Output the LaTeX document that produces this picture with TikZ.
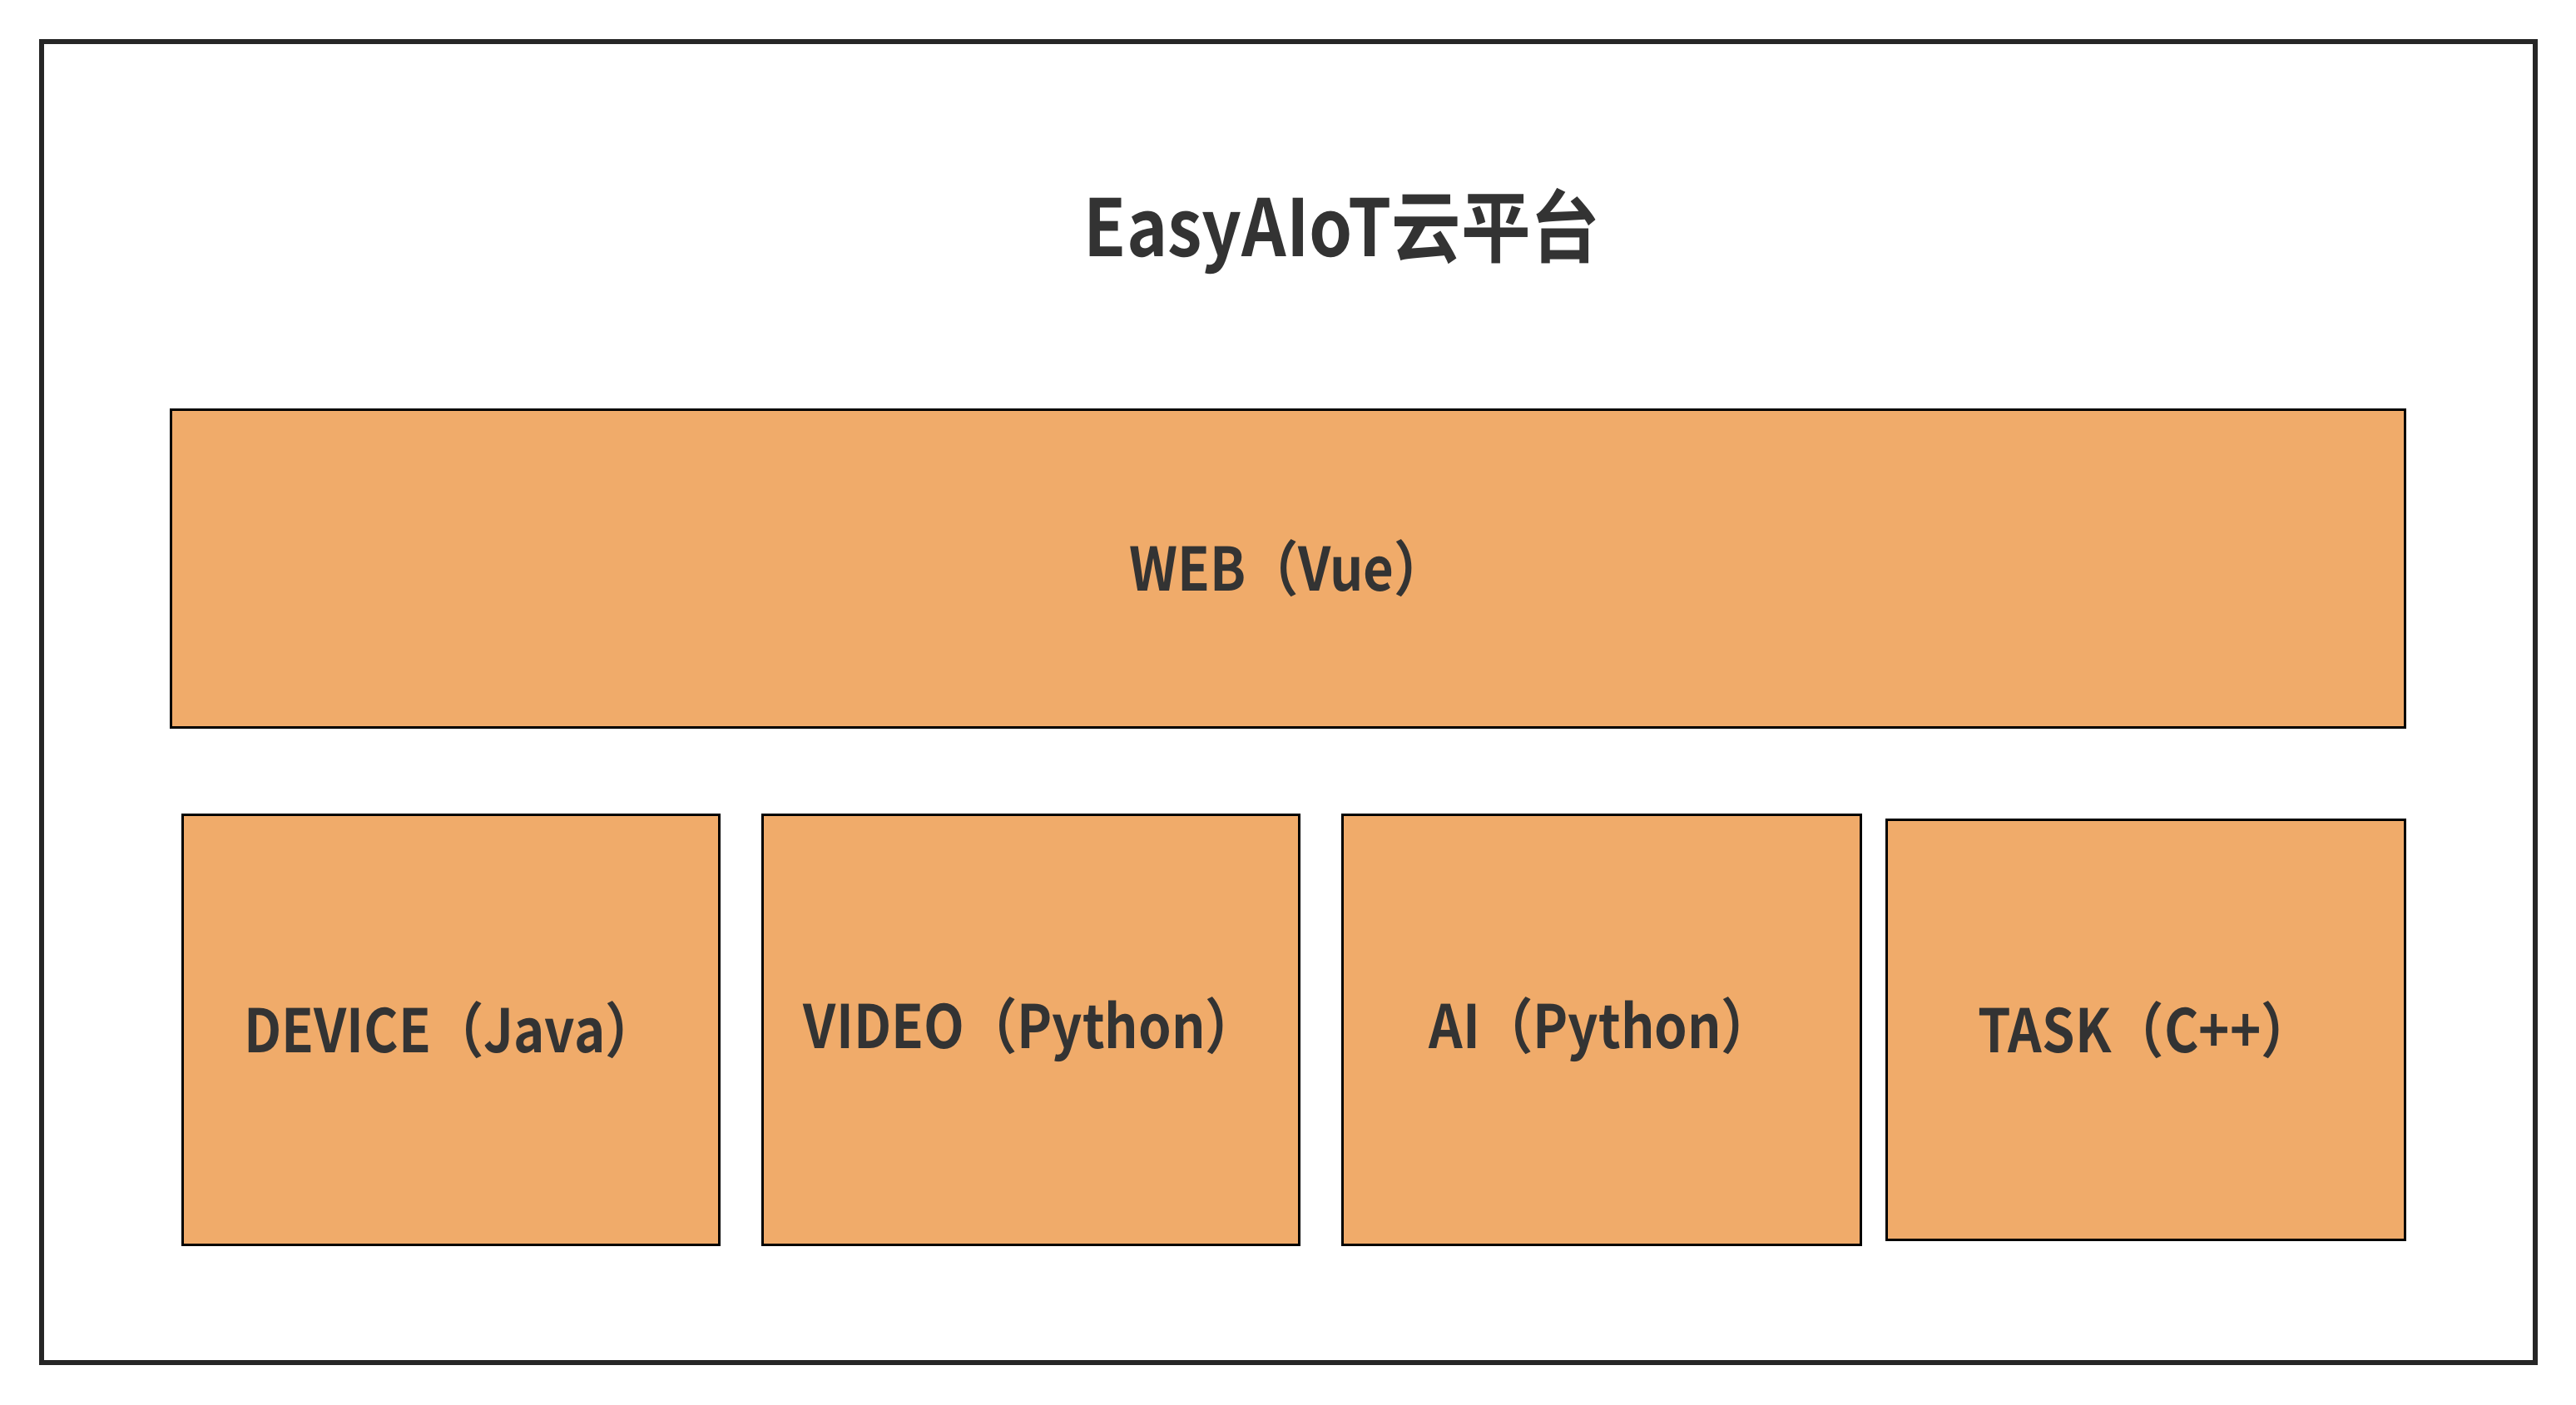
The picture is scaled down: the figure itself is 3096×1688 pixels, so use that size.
\documentclass[tikz,border=0pt]{standalone}
\usepackage{fontspec}
\setmainfont{Noto Sans CJK SC}[UprightFont = * Bold, FakeStretch=0.88]
\definecolor{boxfill}{HTML}{F0AB6A}
\definecolor{txt}{HTML}{333333}
\definecolor{outer}{HTML}{262626}
\begin{document}
\begin{tikzpicture}[x=0.02cm,y=-0.02cm,
  box/.style={draw=black, line width=1.7pt, fill=boxfill, inner sep=0pt,
    text=txt, font=\fontsize{41}{49}\selectfont},
  frame/.style={draw=outer, line width=3.4pt, inner sep=0pt}]
\useasboundingbox (0,0) rectangle (3096,1688);
\node[frame, minimum width=59.94cm, minimum height=31.76cm] (outerbox) at (1548.5,844) {};
\node[text=txt, font=\fontsize{54}{64}\selectfont] (title) at (1613,278) {EasyAIoT云平台};
\node[box, minimum width=53.72cm, minimum height=7.66cm] (web) at (1548,683.5) {WEB（Vue）};
\node[box, minimum width=12.92cm, minimum height=10.36cm] (device) at (542,1238) {DEVICE（Java）};
\node[box, minimum width=12.92cm, minimum height=10.36cm] (video) at (1239,1238) {VIDEO（Python）};
\node[box, minimum width=12.48cm, minimum height=10.36cm] (ai) at (1925,1238) {AI（Python）};
\node[box, minimum width=12.48cm, minimum height=10.12cm] (task) at (2579,1238) {TASK（C++）};
\end{tikzpicture}
\end{document}
